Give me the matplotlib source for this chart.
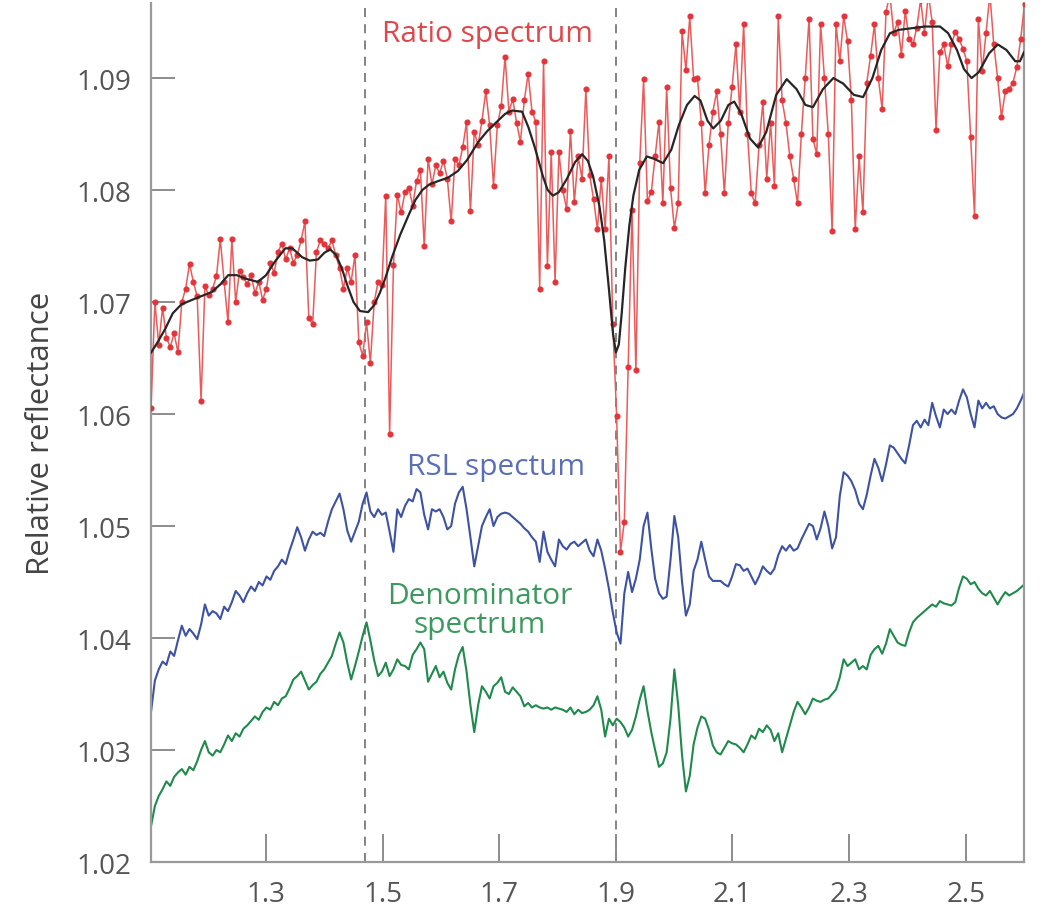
import numpy as np
import matplotlib
matplotlib.use("Agg")
import matplotlib.pyplot as plt

plt.rcParams['font.family'] = ['Open Sans', 'DejaVu Sans']

## Spettri: griglia in lunghezza d'onda (micron), passo ~6.6 nm
wavelength = np.round(1.1027 + 0.0066 * np.arange(228), 4)

ratio = [
    1.0605, 1.0700, 1.0662, 1.0695, 1.0668, 1.0660, 1.0672, 1.0655, 1.0700, 1.0712,
    1.0734, 1.0718, 1.0705, 1.0612, 1.0714, 1.0706, 1.0712, 1.0723, 1.0756, 1.0718,
    1.0682, 1.0756, 1.0700, 1.0728, 1.0722, 1.0716, 1.0724, 1.0708, 1.0718, 1.0702,
    1.0712, 1.0735, 1.0726, 1.0745, 1.0752, 1.0738, 1.0748, 1.0735, 1.0742, 1.0755,
    1.0772, 1.0686, 1.0680, 1.0745, 1.0755, 1.0752, 1.0748, 1.0755, 1.0742, 1.0730,
    1.0712, 1.0730, 1.0718, 1.0742, 1.0664, 1.0652, 1.0682, 1.0646, 1.0700, 1.0718,
    1.0715, 1.0795, 1.0582, 1.0733, 1.0796, 1.0780, 1.0798, 1.0802, 1.0786, 1.0808,
    1.0818, 1.0750, 1.0828, 1.0805, 1.0822, 1.0815, 1.0826, 1.0810, 1.0772, 1.0828,
    1.0822, 1.0838, 1.0861, 1.0781, 1.0852, 1.0840, 1.0862, 1.0888, 1.0858, 1.0804,
    1.0858, 1.0875, 1.0919, 1.0870, 1.0881, 1.0860, 1.0843, 1.0880, 1.0904, 1.0870,
    1.0861, 1.0712, 1.0915, 1.0732, 1.0834, 1.0718, 1.0834, 1.0800, 1.0783, 1.0853,
    1.0789, 1.0830, 1.0810, 1.0890, 1.0813, 1.0792, 1.0765, 1.0810, 1.0765, 1.0830,
    1.0680, 1.0598, 1.0477, 1.0504, 1.0642, 1.0782, 1.0639, 1.0824, 1.0899, 1.0790,
    1.0798, 1.0830, 1.0861, 1.0788, 1.0892, 1.0802, 1.0766, 1.0788, 1.0942, 1.0907,
    1.0955, 1.0899, 1.0900, 1.0860, 1.0797, 1.0840, 1.0870, 1.0888, 1.0850, 1.0797,
    1.0860, 1.0892, 1.0930, 1.0870, 1.0948, 1.0850, 1.0797, 1.0788, 1.0840, 1.0879,
    1.0810, 1.0860, 1.0804, 1.0955, 1.0880, 1.0860, 1.0830, 1.0810, 1.0788, 1.0850,
    1.0900, 1.0953, 1.0846, 1.0832, 1.0948, 1.0900, 1.0850, 1.0763, 1.0948, 1.0915,
    1.0955, 1.0933, 1.0880, 1.0765, 1.0830, 1.0780, 1.0896, 1.0920, 1.0948, 1.0900,
    1.0872, 1.0959, 1.0975, 1.0940, 1.0950, 1.0921, 1.0960, 1.0935, 1.0930, 1.0945,
    1.0970, 1.0940, 1.0975, 1.0950, 1.0854, 1.0923, 1.0930, 1.0911, 1.0930, 1.0941,
    1.0935, 1.0926, 1.0915, 1.0847, 1.0777, 1.0953, 1.0906, 1.0940, 1.0975, 1.0930,
    1.0900, 1.0865, 1.0888, 1.0890, 1.0896, 1.0910, 1.0935, 1.0966,
]

rsl = [
    1.0334, 1.0362, 1.0372, 1.0379, 1.0376, 1.0388, 1.0384, 1.0398, 1.0411, 1.0402,
    1.0408, 1.0404, 1.0399, 1.0412, 1.0430, 1.0420, 1.0424, 1.0422, 1.0417, 1.0428,
    1.0424, 1.0432, 1.0442, 1.0438, 1.0432, 1.0440, 1.0446, 1.0442, 1.0450, 1.0447,
    1.0455, 1.0452, 1.0460, 1.0464, 1.0470, 1.0466, 1.0478, 1.0488, 1.0499, 1.0490,
    1.0478, 1.0488, 1.0495, 1.0492, 1.0494, 1.0491, 1.0504, 1.0515, 1.0522, 1.0529,
    1.0515, 1.0496, 1.0486, 1.0495, 1.0504, 1.0520, 1.0530, 1.0513, 1.0508, 1.0515,
    1.0510, 1.0512, 1.0495, 1.0477, 1.0515, 1.0508, 1.0518, 1.0524, 1.0522, 1.0533,
    1.0530, 1.0510, 1.0497, 1.0515, 1.0513, 1.0515, 1.0508, 1.0497, 1.0500, 1.0520,
    1.0530, 1.0535, 1.0515, 1.0490, 1.0464, 1.0482, 1.0500, 1.0508, 1.0515, 1.0500,
    1.0508, 1.0511, 1.0512, 1.0511, 1.0508, 1.0505, 1.0502, 1.0498, 1.0495, 1.0490,
    1.0486, 1.0468, 1.0495, 1.0477, 1.0470, 1.0464, 1.0488, 1.0482, 1.0479, 1.0484,
    1.0486, 1.0482, 1.0485, 1.0488, 1.0478, 1.0473, 1.0488, 1.0478, 1.0462, 1.0444,
    1.0423, 1.0405, 1.0395, 1.0440, 1.0459, 1.0441, 1.0453, 1.0470, 1.0500, 1.0512,
    1.0480, 1.0453, 1.0440, 1.0435, 1.0437, 1.0470, 1.0509, 1.0490, 1.0450, 1.0420,
    1.0430, 1.0460, 1.0470, 1.0486, 1.0470, 1.0455, 1.0451, 1.0451, 1.0451, 1.0448,
    1.0446, 1.0455, 1.0466, 1.0465, 1.0460, 1.0462, 1.0455, 1.0448, 1.0455, 1.0464,
    1.0460, 1.0457, 1.0462, 1.0474, 1.0482, 1.0478, 1.0483, 1.0478, 1.0480, 1.0488,
    1.0495, 1.0502, 1.0500, 1.0488, 1.0498, 1.0513, 1.0500, 1.0480, 1.0490, 1.0527,
    1.0548, 1.0545, 1.0540, 1.0532, 1.0520, 1.0515, 1.0528, 1.0545, 1.0560, 1.0552,
    1.0540, 1.0555, 1.0572, 1.0570, 1.0565, 1.0560, 1.0556, 1.0572, 1.0590, 1.0594,
    1.0588, 1.0595, 1.0590, 1.0610, 1.0598, 1.0588, 1.0604, 1.0600, 1.0604, 1.0600,
    1.0612, 1.0622, 1.0615, 1.0600, 1.0588, 1.0612, 1.0605, 1.0610, 1.0605, 1.0607,
    1.0600, 1.0597, 1.0596, 1.0598, 1.0600, 1.0605, 1.0612, 1.0620,
]

denominator = [
    1.0232, 1.0250, 1.0259, 1.0265, 1.0272, 1.0268, 1.0276, 1.0280, 1.0283, 1.0278,
    1.0285, 1.0282, 1.0290, 1.0300, 1.0308, 1.0298, 1.0295, 1.0300, 1.0298, 1.0305,
    1.0313, 1.0308, 1.0315, 1.0312, 1.0319, 1.0322, 1.0326, 1.0330, 1.0327, 1.0334,
    1.0338, 1.0336, 1.0343, 1.0340, 1.0346, 1.0348, 1.0355, 1.0363, 1.0366, 1.0370,
    1.0362, 1.0354, 1.0358, 1.0361, 1.0368, 1.0372, 1.0378, 1.0384, 1.0395, 1.0405,
    1.0396, 1.0378, 1.0363, 1.0375, 1.0388, 1.0402, 1.0414, 1.0398, 1.0380, 1.0366,
    1.0370, 1.0378, 1.0366, 1.0372, 1.0381, 1.0376, 1.0375, 1.0372, 1.0385, 1.0390,
    1.0396, 1.0390, 1.0361, 1.0368, 1.0375, 1.0365, 1.0370, 1.0360, 1.0354, 1.0372,
    1.0385, 1.0392, 1.0370, 1.0340, 1.0316, 1.0340, 1.0357, 1.0352, 1.0346, 1.0357,
    1.0360, 1.0365, 1.0352, 1.0350, 1.0356, 1.0352, 1.0348, 1.0339, 1.0342, 1.0338,
    1.0340, 1.0338, 1.0337, 1.0338, 1.0336, 1.0338, 1.0337, 1.0336, 1.0334, 1.0338,
    1.0332, 1.0336, 1.0333, 1.0334, 1.0336, 1.0340, 1.0348, 1.0336, 1.0312, 1.0328,
    1.0322, 1.0328, 1.0325, 1.0320, 1.0312, 1.0318, 1.0330, 1.0345, 1.0357, 1.0335,
    1.0316, 1.0300, 1.0285, 1.0288, 1.0298, 1.0328, 1.0372, 1.0340, 1.0295, 1.0263,
    1.0277, 1.0305, 1.0320, 1.0330, 1.0328, 1.0318, 1.0304, 1.0298, 1.0296, 1.0302,
    1.0308, 1.0306, 1.0305, 1.0302, 1.0298, 1.0305, 1.0313, 1.0310, 1.0319, 1.0316,
    1.0322, 1.0318, 1.0308, 1.0315, 1.0298, 1.0310, 1.0322, 1.0334, 1.0343, 1.0338,
    1.0332, 1.0338, 1.0346, 1.0344, 1.0343, 1.0345, 1.0346, 1.0350, 1.0354, 1.0365,
    1.0381, 1.0375, 1.0378, 1.0381, 1.0372, 1.0375, 1.0372, 1.0385, 1.0390, 1.0393,
    1.0386, 1.0395, 1.0408, 1.0402, 1.0396, 1.0394, 1.0393, 1.0405, 1.0414, 1.0418,
    1.0421, 1.0424, 1.0427, 1.0430, 1.0428, 1.0433, 1.0431, 1.0430, 1.0429, 1.0432,
    1.0445, 1.0455, 1.0453, 1.0448, 1.0450, 1.0444, 1.0440, 1.0438, 1.0442, 1.0436,
    1.0430, 1.0436, 1.0441, 1.0438, 1.0440, 1.0442, 1.0445, 1.0448,
]

## Curva liscia sul rapporto
smooth_wl = [
    1.103, 1.115, 1.127, 1.140, 1.155, 1.178, 1.207, 1.222, 1.235, 1.250,
    1.264, 1.286, 1.300, 1.315, 1.333, 1.345, 1.362, 1.375, 1.389, 1.400,
    1.410, 1.420, 1.430, 1.440, 1.450, 1.461, 1.475, 1.485, 1.495, 1.505,
    1.516, 1.530, 1.544, 1.556, 1.568, 1.580, 1.595, 1.612, 1.629, 1.645,
    1.664, 1.680, 1.698, 1.710, 1.722, 1.739, 1.750, 1.761, 1.775, 1.783,
    1.792, 1.802, 1.816, 1.830, 1.842, 1.852, 1.861, 1.872, 1.880, 1.888,
    1.895, 1.900, 1.905, 1.910, 1.916, 1.923, 1.930, 1.940, 1.953, 1.965,
    1.981, 1.995, 2.008, 2.022, 2.035, 2.045, 2.057, 2.067, 2.080, 2.093,
    2.103, 2.115, 2.130, 2.144, 2.158, 2.175, 2.193, 2.210, 2.225, 2.238,
    2.255, 2.273, 2.290, 2.308, 2.324, 2.340, 2.355, 2.370, 2.385, 2.400,
    2.430, 2.456, 2.470, 2.485, 2.497, 2.510, 2.522, 2.540, 2.555, 2.570,
    2.585, 2.593, 2.600,
]
smooth_val = [
    1.0655, 1.0665, 1.0676, 1.0690, 1.0698, 1.0703, 1.0709, 1.0716, 1.0724, 1.0724,
    1.0721, 1.0718, 1.0724, 1.0736, 1.0748, 1.0748, 1.0740, 1.0737, 1.0738, 1.0744,
    1.0747, 1.0742, 1.0730, 1.0714, 1.0700, 1.0692, 1.0691, 1.0697, 1.0708, 1.0722,
    1.0740, 1.0760, 1.0777, 1.0791, 1.0800, 1.0805, 1.0808, 1.0811, 1.0817, 1.0827,
    1.0843, 1.0853, 1.0862, 1.0868, 1.0871, 1.0870, 1.0856, 1.0838, 1.0812, 1.0800,
    1.0795, 1.0798, 1.0810, 1.0825, 1.0832, 1.0826, 1.0812, 1.0785, 1.0755, 1.0712,
    1.0672, 1.0655, 1.0662, 1.0690, 1.0730, 1.0768, 1.0795, 1.0818, 1.0830, 1.0828,
    1.0824, 1.0836, 1.0858, 1.0876, 1.0884, 1.0880, 1.0862, 1.0855, 1.0862, 1.0876,
    1.0879, 1.0868, 1.0846, 1.0838, 1.0852, 1.0885, 1.0899, 1.0890, 1.0876, 1.0874,
    1.0890, 1.0900, 1.0895, 1.0885, 1.0883, 1.0900, 1.0925, 1.0940, 1.0943, 1.0944,
    1.0946, 1.0946, 1.0940, 1.0925, 1.0908, 1.0900, 1.0905, 1.0922, 1.0930, 1.0925,
    1.0915, 1.0915, 1.0923,
]

band_centres = [1.47, 1.90]
xtick_vals = [1.3, 1.5, 1.7, 1.9, 2.1, 2.3, 2.5]
ytick_vals = [1.02, 1.03, 1.04, 1.05, 1.06, 1.07, 1.08, 1.09]

fig = plt.figure(figsize=(10.43, 9.12), dpi=100)
ax = fig.add_axes([0.1448, 0.0537, 0.8370, 0.9419])

for wc in band_centres:
    ax.axvline(wc, color="#7a7a7a", lw=1.3, ls=(0, (5, 4)), zorder=1)

ax.plot(wavelength, denominator, color="#1f8a4c", lw=1.5, zorder=2)
ax.plot(wavelength, rsl, color="#3d52a3", lw=1.5, zorder=2)
ax.plot(wavelength, ratio, color="#ec5a5a", lw=1.1, marker="o", ms=3.4,
        mfc="#e3343a", mec="#e3343a", zorder=3)
ax.plot(smooth_wl, smooth_val, color="#262626", lw=1.6, zorder=4)

ax.set_xlim(1.1027, 2.6)
ax.set_ylim(1.02, 1.0967)
ax.set_xticks(xtick_vals)
ax.set_xticklabels(["%.1f" % v for v in xtick_vals])
ax.set_yticks(ytick_vals)
ax.set_yticklabels(["%.2f" % v for v in ytick_vals])

ax.tick_params(axis="x", direction="in", length=20, width=1.4, color="#8c8c8c",
               labelsize=20, labelcolor="#555555", pad=13)
ax.tick_params(axis="y", direction="in", length=17, width=1.4, color="#8c8c8c",
               labelsize=20, labelcolor="#555555", pad=14)

for side in ("left", "bottom", "right"):
    ax.spines[side].set_color("#9a9a9a")
    ax.spines[side].set_linewidth(1.6)
ax.spines["top"].set_visible(False)

ax.set_ylabel("Relative reflectance", fontsize=22.5, color="#444444", labelpad=15)

ax.text(1.679, 1.0940, "Ratio spectrum", color="#e0474c", fontsize=21.5,
        ha="center", va="center")
ax.text(1.6945, 1.0553, "RSL spectum", color="#5a6fb8", fontsize=21.5,
        ha="center", va="center")
ax.text(1.667, 1.0425, "Denominator\nspectrum", color="#3c9a5e", fontsize=21.5,
        ha="center", va="center", linespacing=1.0)

plt.savefig("out.png", dpi=100)
